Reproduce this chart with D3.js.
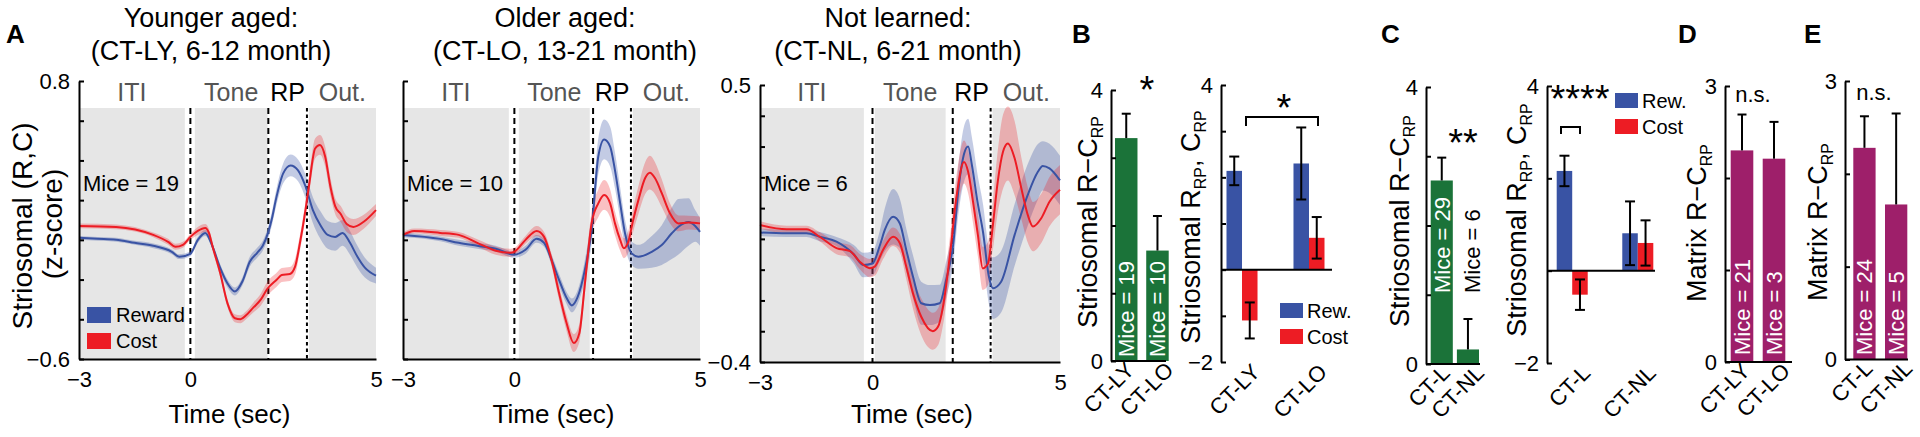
<!DOCTYPE html>
<html><head><meta charset="utf-8">
<script src="https://cdn.jsdelivr.net/npm/d3@7"></script>
<style>
body{margin:0;background:#fff;}
svg{display:block;}
</style></head><body>
<svg id="c" width="1920" height="437"></svg>
<script>
// ---------------- DATA ----------------
const timeDomain = [-3, 5];
const timeTicks = [-3, 0, 5];
const epochNames = ["ITI", "Tone", "RP", "Out."];
const titlesLY = ["Younger aged:", "(CT-LY, 6-12 month)"];
const titlesLO = ["Older aged:", "(CT-LO, 13-21 month)"];
const titlesNL = ["Not learned:", "(CT-NL, 6-21 month)"];
const miceA = [19, 10, 6];
const ticksAged = [-0.6, -0.4, -0.2, 0, 0.2, 0.4, 0.6, 0.8];
const ticksNL = [-0.4, -0.3, -0.2, -0.1, 0, 0.1, 0.2, 0.3, 0.4, 0.5];
const grayLY = [[-3, -0.15], [0.12, 2.08], [3.19, 5]];
const dashLY = [0, 2.1, 3.14];
const grayLO = [[-3, -0.15], [0.12, 2.03], [3.19, 5]];
const dashLO = [0, 2.12, 3.14];
const grayNL = [[-3, -0.23], [0.06, 1.95], [3.2, 5]];
const dashNL = [0, 2.14, 3.15];

// Younger aged (CT-LY)
const lyRewT = [-3, -2.5, -2, -1.5, -1, -0.5, -0.3, 0, 0.2, 0.4, 0.6, 0.8, 1.0, 1.2, 1.4, 1.6, 1.8, 1.95, 2.1, 2.2, 2.3, 2.5, 2.7, 2.9, 3.1, 3.3, 3.5, 3.7, 3.9, 4.1, 4.3, 4.5, 4.7, 5.0];
const lyRewV = [0.01, 0.005, 0.0, -0.015, -0.03, -0.06, -0.085, -0.07, 0.0, 0.035, -0.035, -0.14, -0.22, -0.26, -0.21, -0.11, -0.065, -0.03, 0.04, 0.11, 0.2, 0.335, 0.375, 0.35, 0.27, 0.15, 0.075, 0.025, 0.015, 0.035, -0.015, -0.085, -0.14, -0.18];
const lyRewE = [0.01, 0.01, 0.01, 0.01, 0.012, 0.012, 0.012, 0.012, 0.015, 0.015, 0.015, 0.018, 0.02, 0.02, 0.02, 0.025, 0.025, 0.025, 0.03, 0.035, 0.04, 0.05, 0.055, 0.055, 0.06, 0.065, 0.07, 0.07, 0.07, 0.065, 0.06, 0.055, 0.05, 0.04];
const lyCostT = [-3, -2, -1, -0.6, -0.4, -0.2, 0, 0.2, 0.4, 0.5, 0.6, 0.8, 1.0, 1.2, 1.35, 1.5, 1.7, 1.9, 2.06, 2.33, 2.46, 2.68, 2.82, 2.95, 3.1, 3.2, 3.36, 3.49, 3.63, 3.77, 3.9, 4.05, 4.21, 4.39, 4.66, 5.0];
const lyCostV = [0.07, 0.065, 0.025, -0.01, -0.035, -0.025, 0.015, 0.045, 0.06, 0.035, -0.035, -0.165, -0.32, -0.395, -0.40, -0.38, -0.34, -0.30, -0.25, -0.20, -0.177, -0.172, -0.135, -0.017, 0.15, 0.28, 0.46, 0.478, 0.42, 0.27, 0.17, 0.13, 0.08, 0.065, 0.09, 0.15];
const lyCostE = [0.012, 0.012, 0.012, 0.015, 0.015, 0.015, 0.015, 0.02, 0.02, 0.02, 0.02, 0.02, 0.02, 0.02, 0.02, 0.02, 0.025, 0.03, 0.035, 0.035, 0.035, 0.035, 0.04, 0.04, 0.04, 0.045, 0.05, 0.05, 0.05, 0.045, 0.04, 0.04, 0.04, 0.04, 0.035, 0.03];

// Older aged (CT-LO)
const loRewT = [-3, -2, -1.5, -1, -0.5, 0, 0.3, 0.6, 0.8, 1.0, 1.2, 1.4, 1.55, 1.7, 1.9, 2.08, 2.26, 2.42, 2.58, 2.71, 2.85, 2.98, 3.16, 3.34, 3.7, 3.97, 4.24, 4.42, 4.69, 4.87, 5.0];
const loRewV = [0.025, 0.005, -0.015, -0.03, -0.045, -0.075, -0.05, 0.005, -0.015, -0.1, -0.2, -0.29, -0.33, -0.29, -0.15, 0.05, 0.42, 0.506, 0.47, 0.35, 0.184, 0.033, -0.068, -0.085, -0.06, -0.026, 0.033, 0.066, 0.09, 0.07, 0.04];
const loRewE = [0.012, 0.012, 0.015, 0.015, 0.015, 0.015, 0.02, 0.02, 0.02, 0.025, 0.03, 0.03, 0.035, 0.035, 0.05, 0.07, 0.09, 0.1, 0.1, 0.09, 0.08, 0.07, 0.06, 0.06, 0.08, 0.1, 0.13, 0.14, 0.12, 0.08, 0.07];
const loCostT = [-3, -2.7, -2, -1.5, -1, -0.5, -0.1, 0, 0.3, 0.6, 0.8, 1.0, 1.2, 1.4, 1.6, 1.75, 1.9, 2.08, 2.26, 2.42, 2.58, 2.71, 2.85, 2.95, 3.07, 3.2, 3.34, 3.52, 3.65, 3.79, 3.97, 4.19, 4.42, 4.69, 5.0];
const loCostV = [0.025, 0.045, 0.035, 0.025, -0.015, -0.055, -0.065, -0.06, 0.0, 0.045, 0.015, -0.1, -0.265, -0.415, -0.52, -0.47, -0.22, 0.083, 0.184, 0.226, 0.184, 0.083, 0.0, -0.042, -0.009, 0.10, 0.2, 0.31, 0.338, 0.31, 0.235, 0.134, 0.083, 0.087, 0.083];
const loCostE = [0.012, 0.012, 0.015, 0.015, 0.018, 0.02, 0.02, 0.02, 0.02, 0.025, 0.025, 0.03, 0.035, 0.04, 0.045, 0.045, 0.05, 0.06, 0.07, 0.075, 0.07, 0.06, 0.055, 0.05, 0.055, 0.06, 0.07, 0.08, 0.085, 0.08, 0.07, 0.05, 0.04, 0.035, 0.035];

// Not learned (CT-NL)
const nlRewT = [-3, -2.3, -1.76, -1.41, -0.96, -0.5, -0.25, 0, 0.2, 0.33, 0.55, 0.73, 0.9, 1.08, 1.3, 1.53, 1.79, 1.97, 2.15, 2.3, 2.45, 2.55, 2.65, 2.8, 2.95, 3.1, 3.21, 3.43, 3.79, 4.14, 4.41, 4.54, 4.72, 5.0];
const nlRewV = [0.021, 0.018, 0.018, 0.007, -0.009, -0.05, -0.085, -0.08, -0.02, 0.03, 0.072, 0.05, -0.036, -0.123, -0.209, -0.215, -0.209, -0.13, -0.02, 0.17, 0.28, 0.30, 0.24, 0.12, 0.02, -0.12, -0.16, -0.139, 0.013, 0.143, 0.218, 0.237, 0.229, 0.19];
const nlRewE = [0.012, 0.012, 0.012, 0.015, 0.015, 0.03, 0.04, 0.04, 0.05, 0.07, 0.09, 0.08, 0.07, 0.07, 0.07, 0.065, 0.06, 0.06, 0.06, 0.08, 0.09, 0.09, 0.09, 0.09, 0.09, 0.09, 0.1, 0.1, 0.1, 0.1, 0.09, 0.08, 0.08, 0.08];
const nlCostT = [-3, -2.29, -1.76, -1.41, -0.96, -0.6, -0.34, -0.07, 0.06, 0.28, 0.55, 0.73, 0.9, 1.08, 1.3, 1.61, 1.75, 1.88, 2.06, 2.24, 2.44, 2.55, 2.68, 2.81, 2.94, 3.08, 3.21, 3.34, 3.48, 3.61, 3.79, 3.97, 4.14, 4.28, 4.5, 4.72, 5.0];
const nlCostV = [0.045, 0.031, 0.031, 0.007, -0.03, -0.04, -0.074, -0.095, -0.09, -0.036, 0.007, -0.014, -0.09, -0.177, -0.253, -0.30, -0.285, -0.22, -0.058, 0.137, 0.25, 0.218, 0.121, 0.013, -0.096, -0.08, 0.045, 0.186, 0.283, 0.31, 0.262, 0.164, 0.078, 0.04, 0.067, 0.121, 0.16];
const nlCostE = [0.012, 0.012, 0.012, 0.015, 0.02, 0.02, 0.025, 0.03, 0.03, 0.03, 0.03, 0.03, 0.04, 0.05, 0.06, 0.06, 0.06, 0.06, 0.06, 0.07, 0.07, 0.07, 0.07, 0.07, 0.07, 0.07, 0.08, 0.1, 0.12, 0.12, 0.12, 0.1, 0.09, 0.08, 0.08, 0.08, 0.08];

// Bar panels
const catsAge = ["CT-LY", "CT-LO"];
const catsLearn = ["CT-L", "CT-NL"];
const bLeftVal = [3.29, 1.63];
const bLeftErr = [0.36, 0.51];
const bLeftMice = [19, 10];
const bRightRew = [2.14, 2.30];
const bRightRewErr = [0.31, 0.78];
const bRightCost = [-1.10, 0.69];
const bRightCostErr = [0.39, 0.45];
const cLeftVal = [2.65, 0.21];
const cLeftErr = [0.33, 0.44];
const cLeftMice = [29, 6];
const cRightRew = [2.16, 0.81];
const cRightRewErr = [0.33, 0.69];
const cRightCost = [-0.52, 0.60];
const cRightCostErr = [0.33, 0.49];
const dVal = [2.30, 2.21];
const dErr = [0.39, 0.40];
const dMice = [21, 3];
const eVal = [2.28, 1.67];
const eErr = [0.34, 0.98];
const eMice = [24, 5];
const ticks0to4 = [0, 1, 2, 3, 4];
const ticksM2to4 = [-2, -1, 0, 1, 2, 3, 4];
const ticksM2to4by2 = [-2, 0, 2, 4];
const ticks0to3 = [0, 1, 2, 3];
const seriesNames = ["Reward", "Cost"];
const seriesShort = ["Rew.", "Cost"];

// ---------------- STYLE ----------------
const FONT = '"Liberation Sans", Arial, Helvetica, sans-serif';
const BLUE = "#3953a4", RED = "#ed1c24", GREEN = "#1b7339", MAG = "#9e1f6a", GRAY = "#e6e6e6";
const svg = d3.select("#c").attr("font-family", FONT);
const fmt = d => (d < 0 ? "\u2212" : "") + Math.abs(d);

function zip(t, v, e) { return t.map((tt, i) => ({t: tt, v: v[i], e: e[i]})); }

function styleAxis(a, fs) {
  a.attr("font-family", FONT).attr("font-size", fs);
  a.select(".domain").attr("stroke", "#000").attr("stroke-width", 2);
  a.selectAll(".tick line").attr("stroke", "#000").attr("stroke-width", 2);
  a.selectAll(".tick text").attr("fill", "#000");
}

// ---------------- PANEL A ----------------
function tracePanel(cfg) {
  const g = svg.append("g");
  const x = d3.scaleLinear().domain(timeDomain).range([cfg.x0, cfg.x1]);
  const y = d3.scaleLinear().domain(cfg.yDom).range([cfg.yBot, cfg.yTop]);
  const shadeTop = 108;
  g.selectAll("rect.ep").data(cfg.gray).join("rect")
    .attr("x", d => x(d[0])).attr("width", d => x(d[1]) - x(d[0]))
    .attr("y", shadeTop).attr("height", cfg.yBot - shadeTop).attr("fill", GRAY);
  g.selectAll("line.dash").data(cfg.dash).join("line")
    .attr("x1", d => x(d)).attr("x2", d => x(d)).attr("y1", shadeTop).attr("y2", cfg.yBot)
    .attr("stroke", "#000").attr("stroke-width", 2)
    .attr("stroke-dasharray", (d, i) => i < 2 ? "6,4" : "3.5,3");
  const epX = [(cfg.gray[0][0] + cfg.gray[0][1]) / 2, (cfg.gray[1][0] + cfg.gray[1][1]) / 2,
               (cfg.dash[1] + cfg.dash[2]) / 2, (cfg.gray[2][0] + cfg.gray[2][1]) / 2];
  g.selectAll("text.ep").data(epochNames).join("text")
    .attr("x", (d, i) => x(epX[i])).attr("y", 101).attr("text-anchor", "middle")
    .attr("font-size", 25).attr("fill", (d, i) => i === 2 ? "#000" : "#555").text(d => d);

  const area = d3.area().x(d => x(d.t)).y0(d => y(d.v - d.e)).y1(d => y(d.v + d.e)).curve(d3.curveMonotoneX);
  const line = d3.line().x(d => x(d.t)).y(d => y(d.v)).curve(d3.curveMonotoneX);
  g.append("path").datum(cfg.rew).attr("d", area).attr("fill", BLUE).attr("fill-opacity", 0.3);
  g.append("path").datum(cfg.cost).attr("d", area).attr("fill", RED).attr("fill-opacity", 0.28);
  g.append("path").datum(cfg.rew).attr("d", line).attr("fill", "none").attr("stroke", BLUE).attr("stroke-width", 2);
  g.append("path").datum(cfg.cost).attr("d", line).attr("fill", "none").attr("stroke", RED).attr("stroke-width", 2);

  const ends = [cfg.yDom[0], cfg.yDom[1]];
  const ay = g.append("g").attr("transform", `translate(${cfg.x0},0)`)
    .call(d3.axisLeft(y).tickValues(cfg.yTicks).tickSize(-5).tickSizeOuter(0).tickPadding(9)
      .tickFormat(d => (cfg.showY && ends.includes(d)) ? fmt(d) : ""));
  styleAxis(ay, 22);
  const ax = g.append("g").attr("transform", `translate(0,${cfg.yBot})`)
    .call(d3.axisBottom(x).tickValues(timeTicks).tickSize(0).tickSizeOuter(0).tickPadding(12).tickFormat(fmt));
  styleAxis(ax, 22);
  g.append("text").attr("x", (cfg.x0 + cfg.x1) / 2 + 2).attr("y", 423).attr("text-anchor", "middle")
    .attr("font-size", 26).text("Time (sec)");
  g.selectAll("text.title").data(cfg.titles).join("text")
    .attr("x", cfg.titleX).attr("y", (d, i) => 27 + i * 33).attr("text-anchor", "middle")
    .attr("font-size", 27).text(d => d);
  g.append("text").attr("x", cfg.x0 + 4).attr("y", 191).attr("font-size", 22).text("Mice = " + cfg.mice);
}

tracePanel({x0: 79, x1: 376, yTop: 81, yBot: 359, yDom: [-0.6, 0.8], yTicks: ticksAged, showY: true,
  gray: grayLY, dash: dashLY, rew: zip(lyRewT, lyRewV, lyRewE), cost: zip(lyCostT, lyCostV, lyCostE),
  titles: titlesLY, titleX: 211, mice: miceA[0]});
tracePanel({x0: 403, x1: 700, yTop: 81, yBot: 359, yDom: [-0.6, 0.8], yTicks: ticksAged, showY: false,
  gray: grayLO, dash: dashLO, rew: zip(loRewT, loRewV, loRewE), cost: zip(loCostT, loCostV, loCostE),
  titles: titlesLO, titleX: 565, mice: miceA[1]});
tracePanel({x0: 760, x1: 1060, yTop: 85, yBot: 362, yDom: [-0.4, 0.5], yTicks: ticksNL, showY: true,
  gray: grayNL, dash: dashNL, rew: zip(nlRewT, nlRewV, nlRewE), cost: zip(nlCostT, nlCostV, nlCostE),
  titles: titlesNL, titleX: 898, mice: miceA[2]});

svg.append("text").attr("transform", "translate(32,226) rotate(-90)").attr("text-anchor", "middle")
  .attr("font-size", 28).text("Striosomal (R,C)");
svg.append("text").attr("transform", "translate(62,224) rotate(-90)").attr("text-anchor", "middle")
  .attr("font-size", 28).text("(z-score)");
const legA = svg.append("g");
legA.selectAll("rect").data(seriesNames).join("rect")
  .attr("x", 87).attr("y", (d, i) => 307 + i * 26).attr("width", 24).attr("height", 16)
  .attr("fill", (d, i) => i ? RED : BLUE);
legA.selectAll("text").data(seriesNames).join("text")
  .attr("x", 116).attr("y", (d, i) => 322 + i * 26).attr("font-size", 20).text(d => d);

// ---------------- BAR PANELS ----------------
function yLabel(x, yc, parts) {
  const t = svg.append("text").attr("transform", `translate(${x},${yc}) rotate(-90)`)
    .attr("text-anchor", "middle").attr("font-size", 27);
  parts.forEach(p => {
    const s = t.append("tspan").text(p[0]);
    if (p[1]) s.attr("font-size", 16).attr("dy", 6);
    else if (p[2]) s.attr("dy", -6);
  });
}
function xLabels(g, xs, y0, names) {
  g.selectAll("text.xl").data(names).join("text")
    .attr("transform", (d, i) => `translate(${xs[i]},${y0}) rotate(-45)`)
    .attr("text-anchor", "end").attr("dy", "0.35em").attr("font-size", 22).text(d => d);
}
function errBar(g, cx, yA, yB, cap) {
  g.append("line").attr("x1", cx).attr("x2", cx).attr("y1", yA).attr("y2", yB).attr("stroke", "#000").attr("stroke-width", 2);
  g.append("line").attr("x1", cx - cap / 2).attr("x2", cx + cap / 2).attr("y1", yA).attr("y2", yA).attr("stroke", "#000").attr("stroke-width", 2);
}

function simpleBars(cfg) {
  const g = svg.append("g");
  const x = d3.scaleBand().domain(cfg.cats).range([cfg.b0, cfg.b1]).paddingInner(cfg.pi).paddingOuter(0);
  const y = d3.scaleLinear().domain(cfg.yDom).range([cfg.yBot, cfg.yTop]);
  g.selectAll("rect").data(cfg.vals).join("rect")
    .attr("x", (d, i) => x(cfg.cats[i])).attr("width", x.bandwidth())
    .attr("y", d => y(d)).attr("height", d => y(0) - y(d)).attr("fill", cfg.color);
  cfg.vals.forEach((v, i) => {
    const cx = x(cfg.cats[i]) + x.bandwidth() / 2;
    errBar(g, cx, y(v + cfg.errs[i]), y(v), 9);
    g.append("text").attr("transform", `translate(${cx + (cfg.miceDx ? cfg.miceDx[i] : 0)},${cfg.miceY}) rotate(-90)`)
      .attr("dy", "0.36em").attr("font-size", 22)
      .attr("fill", cfg.miceDark && cfg.miceDark[i] ? "#000" : "#fff").text("Mice = " + cfg.mice[i]);
  });
  const ay = g.append("g").attr("transform", `translate(${cfg.ax},0)`)
    .call(d3.axisLeft(y).tickValues(cfg.ticks).tickSize(-5).tickSizeOuter(0).tickPadding(8)
      .tickFormat(d => (d === cfg.yDom[0] || d === cfg.yDom[1]) ? fmt(d) : ""));
  styleAxis(ay, 22);
  g.append("line").attr("x1", cfg.ax).attr("x2", cfg.axEnd).attr("y1", y(0)).attr("y2", y(0))
    .attr("stroke", "#000").attr("stroke-width", 2);
  const lblDx = [4, 12];
  xLabels(g, cfg.cats.map((c, i) => x(c) + x.bandwidth() / 2 + lblDx[i]), cfg.yBot + 5, cfg.cats);
  return {g, x, y};
}

function groupedBars(cfg) {
  const g = svg.append("g");
  const x = d3.scaleBand().domain(cfg.cats).range([cfg.b0, cfg.b1]).paddingInner(cfg.pi).paddingOuter(0);
  const xs = d3.scaleBand().domain(seriesNames).range([0, x.bandwidth()]);
  const y = d3.scaleLinear().domain(cfg.yDom).range([cfg.yBot, cfg.yTop]);
  const series = [[cfg.rew, cfg.rewErr, BLUE], [cfg.cost, cfg.costErr, RED]];
  series.forEach((s, k) => {
    s[0].forEach((v, i) => {
      const bx = x(cfg.cats[i]) + xs(seriesNames[k]);
      g.append("rect").attr("x", bx).attr("width", xs.bandwidth())
        .attr("y", y(Math.max(0, v))).attr("height", Math.abs(y(v) - y(0))).attr("fill", s[2]);
    });
  });
  series.forEach((s, k) => {
    s[0].forEach((v, i) => {
      const cx = x(cfg.cats[i]) + xs(seriesNames[k]) + xs.bandwidth() / 2;
      const e = s[1][i];
      g.append("line").attr("x1", cx).attr("x2", cx).attr("y1", y(v + e)).attr("y2", y(v - e)).attr("stroke", "#000").attr("stroke-width", 2);
      [v + e, v - e].forEach(w => g.append("line").attr("x1", cx - 5).attr("x2", cx + 5)
        .attr("y1", y(w)).attr("y2", y(w)).attr("stroke", "#000").attr("stroke-width", 2));
    });
  });
  const ay = g.append("g").attr("transform", `translate(${cfg.ax},0)`)
    .call(d3.axisLeft(y).tickValues(cfg.ticks).tickSize(-5).tickSizeOuter(0).tickPadding(8)
      .tickFormat(d => (d === cfg.yDom[0] || d === cfg.yDom[1]) ? fmt(d) : ""));
  styleAxis(ay, 22);
  g.append("line").attr("x1", cfg.ax).attr("x2", cfg.axEnd).attr("y1", y(0)).attr("y2", y(0))
    .attr("stroke", "#000").attr("stroke-width", 2);
  xLabels(g, cfg.cats.map(c => x(c) + x.bandwidth() / 2 + 14), cfg.yBot + 6, cfg.cats);
  g.selectAll("rect.leg").data(seriesShort).join("rect")
    .attr("x", cfg.legX).attr("y", (d, i) => cfg.legY + i * 26).attr("width", 23).attr("height", 15)
    .attr("fill", (d, i) => i ? RED : BLUE);
  g.selectAll("text.leg").data(seriesShort).join("text")
    .attr("x", cfg.legX + 27).attr("y", (d, i) => cfg.legY + 15 + i * 26).attr("font-size", 20).text(d => d);
  return {g, x, y};
}

function star(x, y, s, size) {
  svg.append("text").attr("x", x).attr("y", y).attr("text-anchor", "middle").attr("font-size", size || 38).text(s);
}

[["A", 6], ["B", 1072], ["C", 1381], ["D", 1678], ["E", 1804]].forEach(p =>
  svg.append("text").attr("x", p[1]).attr("y", 43).attr("font-size", 26).attr("font-weight", "bold").text(p[0]));

// B left
simpleBars({cats: catsAge, vals: bLeftVal, errs: bLeftErr, mice: bLeftMice, color: GREEN,
  b0: 1115, b1: 1168.7, pi: 0.28, yDom: [0, 4], yTop: 90, yBot: 361, ticks: ticks0to4,
  ax: 1111, axEnd: 1166, miceY: 357});
yLabel(1097, 222, [["Striosomal R\u2212C"], ["RP", true]]);
star(1147, 103, "*");

// B right
groupedBars({cats: catsAge, rew: bRightRew, rewErr: bRightRewErr, cost: bRightCost, costErr: bRightCostErr,
  b0: 1226.5, b1: 1324.5, pi: 0.537, yDom: [-2, 4], yTop: 85, yBot: 362, ticks: ticksM2to4,
  ax: 1221, axEnd: 1332, legX: 1280, legY: 303});
yLabel(1200, 227, [["Striosomal R"], ["RP", true], [", C", false, true], ["RP", true]]);
svg.append("path").attr("d", "M1246,126V117H1318V126").attr("fill", "none").attr("stroke", "#000").attr("stroke-width", 2);
star(1284, 121, "*");

// C left
simpleBars({cats: catsLearn, vals: cLeftVal, errs: cLeftErr, mice: cLeftMice, color: GREEN,
  b0: 1430.7, b1: 1479, pi: 0.156, yDom: [0, 4], yTop: 87, yBot: 364, ticks: ticks0to4,
  ax: 1426, axEnd: 1480, miceY: 293, miceDark: [false, true], miceDx: [0, 4]});
yLabel(1409, 221, [["Striosomal R\u2212C"], ["RP", true]]);
star(1463, 156, "**");

// C right
groupedBars({cats: catsLearn, rew: cRightRew, rewErr: cRightRewErr, cost: cRightCost, costErr: cRightCostErr,
  b0: 1556.7, b1: 1653.3, pi: 0.527, yDom: [-2, 4], yTop: 86, yBot: 363, ticks: ticksM2to4by2,
  ax: 1547, axEnd: 1655, legX: 1615, legY: 93});
yLabel(1526, 220, [["Striosomal R"], ["RP", true], [", C", false, true], ["RP", true]]);
svg.append("path").attr("d", "M1561,134V127H1580V134").attr("fill", "none").attr("stroke", "#000").attr("stroke-width", 2);
star(1580, 112, "****");

// D
simpleBars({cats: catsAge, vals: dVal, errs: dErr, mice: dMice, color: MAG,
  b0: 1730.7, b1: 1785.3, pi: 0.294, yDom: [0, 3], yTop: 86, yBot: 362, ticks: ticks0to3,
  ax: 1725, axEnd: 1792, miceY: 355});
yLabel(1706, 223, [["Matrix R\u2212C"], ["RP", true]]);
star(1753, 102, "n.s.", 22);

// E
simpleBars({cats: catsLearn, vals: eVal, errs: eErr, mice: eMice, color: MAG,
  b0: 1853.3, b1: 1907.3, pi: 0.297, yDom: [0, 3], yTop: 81, yBot: 359.5, ticks: ticks0to3,
  ax: 1845, axEnd: 1908, miceY: 355});
yLabel(1827, 222, [["Matrix R\u2212C"], ["RP", true]]);
star(1874, 100, "n.s.", 22);
</script>
</body></html>
